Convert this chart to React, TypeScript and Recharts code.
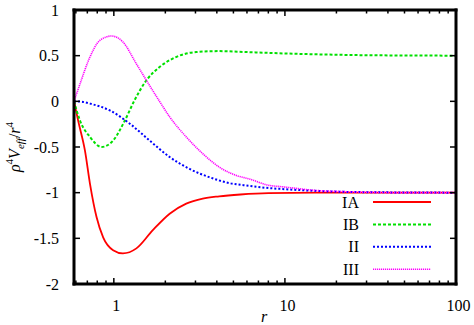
import { LineChart, Line, XAxis, YAxis, Legend } from "recharts"

// r values and V_eff values, per curve
const rIA = [0.585, 0.62, 0.678, 0.725, 0.793, 0.866, 0.99, 1.13, 1.355, 1.69, 2.12, 2.65, 3.31, 4.13, 5.5, 8, 15, 30, 100]
const vIA = [0, -0.22, -0.54, -0.9, -1.27, -1.49, -1.63, -1.665, -1.61, -1.41, -1.23, -1.12, -1.065, -1.04, -1.02, -1.005, -1.0, -1.0, -1.0]

const rIB = [0.585, 0.634, 0.725, 0.848, 0.99, 1.16, 1.32, 1.55, 1.85, 2.31, 3.03, 4.13, 5.9, 8.07, 15, 30, 100]
const vIB = [0, -0.21, -0.39, -0.5, -0.43, -0.21, 0.01, 0.23, 0.375, 0.485, 0.54, 0.55, 0.54, 0.53, 0.515, 0.505, 0.5]

const rII = [0.585, 0.65, 0.725, 0.948, 1.24, 1.62, 2.12, 2.77, 3.61, 4.72, 6.17, 8.07, 9.6, 15, 25, 100]
const vII = [0, -0.005, -0.025, -0.1, -0.245, -0.43, -0.61, -0.74, -0.83, -0.895, -0.925, -0.95, -0.96, -0.98, -0.993, -1]

const rIII = [0.585, 0.634, 0.725, 0.829, 0.969, 1.13, 1.355, 1.55, 1.85, 2.12, 2.65, 3.31, 4.13, 5.17, 6.2, 8.07, 9.6, 15, 23.5, 50, 100]
const vIII = [0, 0.19, 0.485, 0.668, 0.715, 0.65, 0.41, 0.23, 0.0, -0.17, -0.39, -0.573, -0.72, -0.81, -0.85, -0.92, -0.935, -0.975, -0.99, -1, -1]

const xMajor = [1, 10, 100]
const xMinor = [0.6, 0.7, 0.8, 0.9, 2, 3, 4, 5, 6, 7, 8, 9, 20, 30, 40, 50, 60, 70, 80, 90]
const yTicks = [-2, -1.5, -1, -0.5, 0, 0.5, 1]

const FONT = "Liberation Serif"

const toPoints = (rs: number[], vs: number[]) => rs.map((r, i) => ({ r, v: vs[i] }))

const series = [
  { name: "IA", data: toPoints(rIA, vIA), color: "#ff0000", dash: undefined, width: 1.8 },
  { name: "IB", data: toPoints(rIB, vIB), color: "#00e000", dash: "3 2", width: 2 },
  { name: "II", data: toPoints(rII, vII), color: "#0000ff", dash: "2 2", width: 2 },
  { name: "III", data: toPoints(rIII, vIII), color: "#ff00ff", dash: "1.2 0.8", width: 1.6 },
]

function XTickBottom(props: any) {
  const { x, y, payload } = props
  const major = xMajor.includes(payload.value)
  return (
    <g>
      <line x1={x} x2={x} y1={y} y2={y - (major ? 6 : 3.5)} stroke="#000" strokeWidth={1.5} />
      {major && (
        <text x={x + 2.5} y={y + 27} textAnchor="middle" fontFamily={FONT} fontSize={16} fill="#000">
          {payload.value}
        </text>
      )}
    </g>
  )
}

function XTickTop(props: any) {
  const { x, y, payload } = props
  const major = xMajor.includes(payload.value)
  return <line x1={x} x2={x} y1={y} y2={y + (major ? 6 : 3.5)} stroke="#000" strokeWidth={1.5} />
}

function YTickLeft(props: any) {
  const { x, y, payload } = props
  return (
    <g>
      <line x1={x} x2={x + 6} y1={y} y2={y} stroke="#000" strokeWidth={1.5} />
      <text x={x - 15} y={y + 5.5} textAnchor="end" fontFamily={FONT} fontSize={16} fill="#000">
        {String(payload.value)}
      </text>
    </g>
  )
}

function YTickRight(props: any) {
  const { x, y } = props
  return <line x1={x} x2={x - 6} y1={y} y2={y} stroke="#000" strokeWidth={1.5} />
}

function YLabel() {
  return (
    <text transform="translate(20,147) rotate(-90)" textAnchor="middle" fontFamily={FONT} fontSize={16} fontStyle="italic" fill="#000">
      ρ
      <tspan fontSize={11} fontStyle="normal" dy={-7}>4</tspan>
      <tspan dy={7}>V</tspan>
      <tspan fontSize={11} dy={4}>eff</tspan>
      <tspan fontStyle="normal" dy={-4}>/</tspan>
      <tspan>r</tspan>
      <tspan fontSize={11} fontStyle="normal" dy={-7}>4</tspan>
    </text>
  )
}

function XLabel() {
  return (
    <text x={264} y={322} textAnchor="middle" fontFamily={FONT} fontSize={16} fontStyle="italic" fill="#000">
      r
    </text>
  )
}

function KeyBox() {
  return (
    <svg width={150} height={92}>
      {series.map((s, i) => {
        const cy = 12 + i * 22.4
        return (
          <g key={s.name}>
            <text x={69} y={cy + 5.5} textAnchor="end" fontFamily={FONT} fontSize={16} fill="#000">
              {s.name}
            </text>
            <line x1={83} x2={141} y1={cy} y2={cy} stroke={s.color} strokeWidth={s.width} strokeDasharray={s.dash} />
          </g>
        )
      })}
    </svg>
  )
}

const axisLine = { stroke: "#000", strokeWidth: 3, strokeLinecap: "square" as const }

export default function App() {
  return (
    <div style={{ position: "absolute", left: 0, top: 0, background: "#fff", fontFamily: FONT }}>
      <LineChart width={474} height={325} margin={{ top: 0, right: 0, bottom: 0, left: 0 }} style={{ fontFamily: FONT }}>
        <XAxis
          xAxisId="b"
          dataKey="r"
          type="number"
          scale="log"
          domain={[0.585, 100]}
          allowDataOverflow
          ticks={[...xMinor, ...xMajor]}
          interval={0}
          height={41}
          tickSize={0}
          tickMargin={0}
          tickLine={false}
          axisLine={axisLine}
          tick={<XTickBottom />}
          label={<XLabel />}
        />
        <XAxis
          xAxisId="t"
          orientation="top"
          dataKey="r"
          type="number"
          scale="log"
          domain={[0.585, 100]}
          allowDataOverflow
          ticks={[...xMinor, ...xMajor]}
          interval={0}
          height={10}
          tickSize={0}
          tickMargin={0}
          tickLine={false}
          axisLine={axisLine}
          tick={<XTickTop />}
        />
        <YAxis
          yAxisId="l"
          type="number"
          domain={[-2, 1]}
          allowDataOverflow
          ticks={yTicks}
          interval={0}
          width={74}
          tickSize={0}
          tickMargin={0}
          tickLine={false}
          axisLine={axisLine}
          tick={<YTickLeft />}
          label={<YLabel />}
        />
        <YAxis
          yAxisId="r"
          orientation="right"
          type="number"
          domain={[-2, 1]}
          allowDataOverflow
          ticks={yTicks}
          interval={0}
          width={18}
          tickSize={0}
          tickMargin={0}
          tickLine={false}
          axisLine={axisLine}
          tick={<YTickRight />}
        />
        {series.map((s) => (
          <Line
            key={s.name}
            name={s.name}
            data={s.data}
            dataKey="v"
            xAxisId="b"
            yAxisId="l"
            type="monotone"
            stroke={s.color}
            strokeWidth={s.width}
            strokeDasharray={s.dash}
            dot={false}
            activeDot={false}
            isAnimationActive={false}
          />
        ))}
        <Legend
          layout="horizontal"
          verticalAlign="middle"
          align="center"
          content={<KeyBox />}
          wrapperStyle={{ position: "absolute", left: 290, top: 190, width: 150, height: 92 }}
        />
      </LineChart>
    </div>
  )
}
